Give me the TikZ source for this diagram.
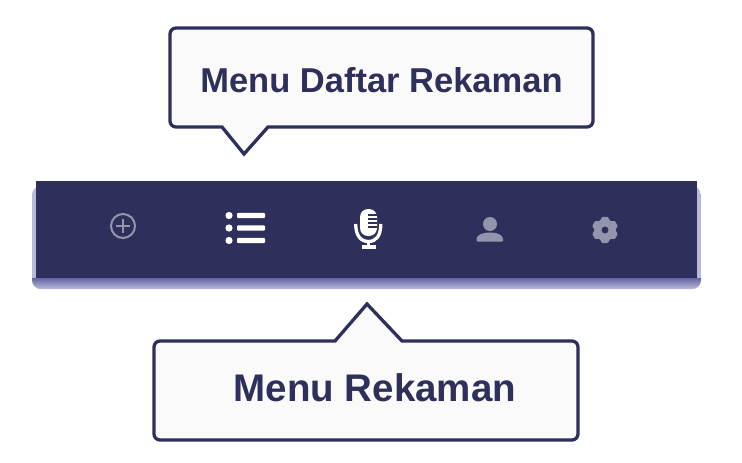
\documentclass[tikz,border=0pt]{standalone}
\usepackage{fontspec}
\setmainfont{Liberation Sans}
\definecolor{navy}{HTML}{2E2F5B}
\definecolor{halo}{HTML}{B9BAD9}
\definecolor{haloedge}{HTML}{6465A6}
\definecolor{paper}{HTML}{FAFAFA}
\definecolor{dimicon}{HTML}{9495AC}
\tikzset{
    callout/.style={draw=navy, fill=paper, line width=3.3pt, rounded corners=6pt, line join=miter},
    caption/.style={text=navy, font=\bfseries, inner sep=0pt},
    slit/.style={navy, line width=1.1pt},
}
\begin{document}
\begin{tikzpicture}[x=1pt, y=-1pt]
    \useasboundingbox (0,0) rectangle (742,463);
    % bar
    \begin{scope}
        \clip[rounded corners=9pt] (32,186) rectangle (701,289);
        \fill[halo] (32,186) rectangle (701,289);
        \shade[top color=haloedge, bottom color=halo] (32,278) rectangle (701,289);
    \end{scope}
    \fill[navy] (36,181) rectangle (697,278);
    % top callout
    \draw[callout] (170,28) -- (593,28) -- (593,127) [sharp corners] -- (268,127) -- (244,154) -- (222,127) [rounded corners=6pt] -- (170,127) -- cycle;
    \node[caption, font=\bfseries\fontsize{34.5}{36}\selectfont] (daftar) at (381.5,80) {Menu Daftar Rekaman};
    % bottom callout
    \draw[callout] (154,341) [sharp corners] -- (335,341) -- (367,304) -- (402,341) [rounded corners=6pt] -- (578,341) -- (578,440) -- (154,440) -- cycle;
    \node[caption, font=\bfseries\fontsize{38.5}{40}\selectfont] (rekaman) at (375,387.5) {Menu Rekaman};
    % add
    \draw[dimicon, line width=2pt] (123,226) circle (12);
    \draw[dimicon, line width=2pt] (116,226) -- (130,226) (123,219) -- (123,233);
    % list
    \foreach \y in {215.5,228,240.5} {
        \fill[white] (229,\y) circle (3.6);
        \fill[white, rounded corners=1pt] (237,\y-2.6) rectangle (265,\y+2.6);
    }
    % mic
    \fill[white, rounded corners=8pt] (360,209) rectangle (377,236);
    \foreach \y in {215,219,223,227} \draw[slit] (368,\y) -- (377,\y);
    \draw[white, line width=3.3pt] (355.7,224) .. controls (355.7,236) and (361,241.5) .. (368.5,241.5) .. controls (376,241.5) and (380.8,236) .. (380.8,224);
    \draw[white, line width=3.3pt] (368.5,241) -- (368.5,247);
    \fill[white] (361.5,245) rectangle (376,249);
    % person
    \fill[dimicon] (490,224) circle (7);
    \fill[dimicon, rounded corners=1pt] (476.5,241.7) -- (476.5,240) .. controls (476.5,235) and (483,232.5) .. (490,232.5) .. controls (497,232.5) and (503,235) .. (503,240) -- (503,241.7) -- cycle;
    % gear
    \begin{scope}[shift={(605,230)}]
        \fill[dimicon, even odd rule, rounded corners=0.7pt] (78:13.4)
            \foreach \a in {90,150,...,390} { -- (\a-12:13.4) -- (\a+12:13.4) -- (\a+30:10.4) } -- cycle
            (0,0) circle (3.6);
    \end{scope}
\end{tikzpicture}
\end{document}
